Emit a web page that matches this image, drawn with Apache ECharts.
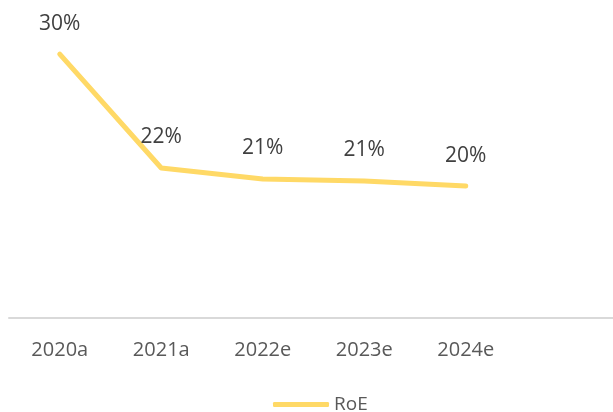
<!DOCTYPE html>
<html>
<head>
<meta charset="utf-8">
<script src="https://cdn.jsdelivr.net/npm/echarts@6/dist/echarts.min.js"></script>
<style>html,body{margin:0;padding:0;background:#fff}#c{width:613px;height:412px}</style>
</head>
<body>
<div id="c"></div>
<script>
var categories = ['2020a', '2021a', '2022e', '2023e', '2024e', ''];
var roeValues = [30.4, 21.6, 20.75, 20.6, 20.2, '-'];
var seriesName = 'RoE';

var chart = echarts.init(document.getElementById('c'), null, {renderer: 'canvas'});
chart.setOption({
  animation: false,
  textStyle: {fontFamily: 'Open Sans'},
  grid: {left: 9, width: 609, top: 33.5, bottom: 94, containLabel: false, outerBoundsMode: 'none'},
  legend: {
    data: [seriesName],
    left: 268, top: 390,
    icon: 'roundRect',
    itemWidth: 56, itemHeight: 5,
    itemStyle: {color: '#FFD966'},
    textStyle: {fontSize: 19, color: '#595959', fontFamily: 'Open Sans'}
  },
  xAxis: {
    type: 'category',
    data: categories,
    boundaryGap: true,
    axisLine: {show: true, lineStyle: {color: '#D9D9D9', width: 2}},
    axisTick: {show: false},
    axisLabel: {fontSize: 20, color: '#595959', margin: 22, fontFamily: 'Open Sans'}
  },
  yAxis: {
    type: 'value', min: 10, max: 32,
    show: false,
    splitLine: {show: false}
  },
  series: [{
    name: seriesName,
    type: 'line',
    data: roeValues,
    showSymbol: true,
    symbol: 'circle',
    symbolSize: 2,
    lineStyle: {color: '#FFD966', width: 5, cap: 'round', join: 'round'},
    itemStyle: {color: '#FFD966'},
    label: {
      show: true, position: 'top', distance: 19,
      fontSize: 21, color: '#404040', fontFamily: 'Open Sans',
      formatter: function (p) { return Math.round(p.value) + '%'; }
    }
  }]
});
</script>
</body>
</html>
